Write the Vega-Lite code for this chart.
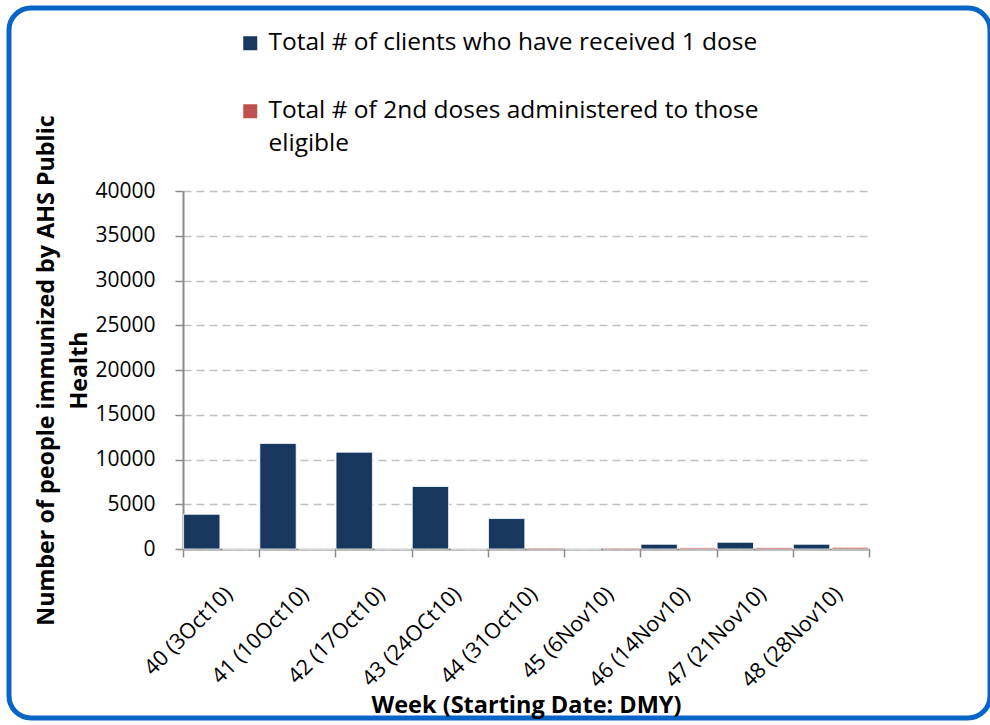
{
  "$schema": "https://vega.github.io/schema/vega-lite/v6.json",
  "width": 981,
  "height": 710,
  "autosize": {"type": "none"},
  "padding": {"left": 9, "top": 8, "right": 0, "bottom": 7},
  "background": "#ffffff",
  "config": {
    "view": {"stroke": "#0665C6", "strokeWidth": 5, "cornerRadius": 22, "fill": null},
    "font": "Open Sans"
  },
  "data": {
    "values": [
      {"week": "40 (3Oct10)", "series": "Total # of clients who have received 1 dose", "count": 3880},
      {"week": "41 (10Oct10)", "series": "Total # of clients who have received 1 dose", "count": 11800},
      {"week": "42 (17Oct10)", "series": "Total # of clients who have received 1 dose", "count": 10820},
      {"week": "43 (24OCt10)", "series": "Total # of clients who have received 1 dose", "count": 6980},
      {"week": "44 (31Oct10)", "series": "Total # of clients who have received 1 dose", "count": 3400},
      {"week": "45 (6Nov10)", "series": "Total # of clients who have received 1 dose", "count": 0},
      {"week": "46 (14Nov10)", "series": "Total # of clients who have received 1 dose", "count": 530},
      {"week": "47 (21Nov10)", "series": "Total # of clients who have received 1 dose", "count": 750},
      {"week": "48 (28Nov10)", "series": "Total # of clients who have received 1 dose", "count": 530},
      {"week": "40 (3Oct10)", "series": "Total # of 2nd doses administered to those eligible", "count": 0},
      {"week": "41 (10Oct10)", "series": "Total # of 2nd doses administered to those eligible", "count": 0},
      {"week": "42 (17Oct10)", "series": "Total # of 2nd doses administered to those eligible", "count": 0},
      {"week": "43 (24OCt10)", "series": "Total # of 2nd doses administered to those eligible", "count": 0},
      {"week": "44 (31Oct10)", "series": "Total # of 2nd doses administered to those eligible", "count": 120},
      {"week": "45 (6Nov10)", "series": "Total # of 2nd doses administered to those eligible", "count": 110},
      {"week": "46 (14Nov10)", "series": "Total # of 2nd doses administered to those eligible", "count": 150},
      {"week": "47 (21Nov10)", "series": "Total # of 2nd doses administered to those eligible", "count": 170},
      {"week": "48 (28Nov10)", "series": "Total # of 2nd doses administered to those eligible", "count": 190}
    ]
  },
  "mark": {"type": "bar", "stroke": "#ffffff", "strokeWidth": 0.8},
  "encoding": {
    "x": {
      "field": "week",
      "type": "nominal",
      "sort": null,
      "scale": {"paddingInner": 0, "paddingOuter": 0, "range": [174, 860]},
      "axis": {
        "offset": -169,
        "title": "Week (Starting Date: DMY)",
        "titleFont": "Open Sans",
        "titleFontWeight": "bold",
        "titleFontSize": 23.5,
        "titleColor": "#000000",
        "titleBaseline": "alphabetic",
        "titleY": 163,
        "labelAngle": -45,
        "labelAlign": "right",
        "labelBaseline": "top",
        "labelFontSize": 21.5,
        "labelColor": "#000000",
        "labelPadding": 26,
        "labelOverlap": false,
        "labelBound": false,
        "labelFlush": false,
        "tickBand": "extent",
        "tickSize": 8,
        "tickColor": "#8c8c8c",
        "tickWidth": 1.5,
        "domainColor": "#8c8c8c",
        "domainWidth": 2,
        "grid": false
      }
    },
    "xOffset": {
      "field": "series",
      "type": "nominal",
      "sort": null,
      "scale": {"paddingInner": 0.06, "paddingOuter": 0.015}
    },
    "y": {
      "field": "count",
      "type": "quantitative",
      "scale": {"domain": [0, 40000], "nice": false, "range": [541, 183]},
      "axis": {
        "offset": -174,
        "title": ["Number of people immunized by AHS Public", "Health"],
        "titleFont": "Open Sans",
        "titleFontWeight": "bold",
        "titleFontSize": 23.3,
        "titleColor": "#000000",
        "titleLineHeight": 33,
        "titleBaseline": "alphabetic",
        "titleX": -130,
        "values": [0, 5000, 10000, 15000, 20000, 25000, 30000, 35000, 40000],
        "format": "d",
        "labelFontSize": 21,
        "labelColor": "#000000",
        "labelPadding": 20,
        "tickSize": 8,
        "tickColor": "#8c8c8c",
        "tickWidth": 1.5,
        "domainColor": "#8c8c8c",
        "domainWidth": 2,
        "grid": true,
        "gridColor": "#c0c0c0",
        "gridDash": [8, 5],
        "gridWidth": 1.5
      }
    },
    "color": {
      "field": "series",
      "type": "nominal",
      "sort": null,
      "scale": {"range": ["#17375E", "#C0504D"]},
      "legend": {
        "title": null,
        "orient": "none",
        "legendX": 229,
        "legendY": 23,
        "symbolType": "square",
        "symbolSize": 196,
        "symbolStrokeWidth": 0,
        "symbolOpacity": 1,
        "labelFontSize": 24.5,
        "labelColor": "#000000",
        "labelLimit": 700,
        "labelOffset": 6,
        "labelExpr": "datum.label == 'Total # of 2nd doses administered to those eligible' ? ['Total # of 2nd doses administered to those', 'eligible'] : datum.label",
        "rowPadding": 43,
        "encoding": {"labels": {"lineHeight": {"value": 33}}}
      }
    }
  }
}
